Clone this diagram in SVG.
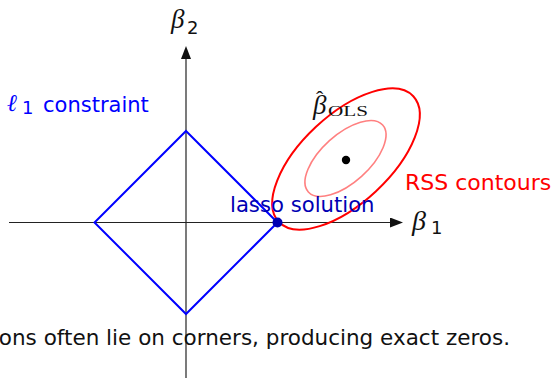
<svg xmlns="http://www.w3.org/2000/svg" width="557" height="378" viewBox="0 0 557 378">
<style>
.sans{font-family:"DejaVu Sans","Liberation Sans",sans-serif;}
.math{font-family:"Liberation Serif","DejaVu Serif",serif;font-style:italic;}
.rm{font-family:"Liberation Serif","DejaVu Serif",serif;}
.axis{stroke:#222;stroke-width:1.2;fill:none;}
</style>
<defs>
<marker id="arr" viewBox="0 0 13 10" refX="0" refY="5" markerWidth="13" markerHeight="10" markerUnits="userSpaceOnUse" orient="auto">
<path d="M0,0 L13,5 L0,10 Z" fill="#111"/>
</marker>
</defs>
<rect width="557" height="378" fill="#fff"/>
<g id="connectors">
<line class="axis" x1="9" y1="222.5" x2="390" y2="222.5" marker-end="url(#arr)"/>
<line class="axis" x1="186" y1="378" x2="186" y2="59" marker-end="url(#arr)"/>
</g>
<g id="constraint">
<polygon points="186,131 277.5,222.5 186,314 94.5,222.5" fill="none" stroke="#0000ff" stroke-width="2"/>
</g>
<g id="contours">
<ellipse cx="346" cy="159" rx="92" ry="44" transform="rotate(-43 346 159)" fill="none" stroke="#ff0000" stroke-width="2"/>
<ellipse cx="345.5" cy="158.5" rx="50" ry="24" transform="rotate(-42 345.5 158.5)" fill="none" stroke="#ff8080" stroke-width="1.6"/>
</g>
<g id="ols">
<circle cx="346" cy="160" r="4.2" fill="#000"/>
<text class="math" font-size="27" fill="#111"><tspan x="313" y="114">β</tspan><tspan x="316" y="106" font-style="normal" font-size="22">ˆ</tspan></text>
<text x="328" y="116" class="rm" font-size="15" fill="#111" textLength="40" lengthAdjust="spacingAndGlyphs">OLS</text>
</g>
<g id="lasso">
<circle cx="277.5" cy="222.5" r="5" fill="#0000b3"/>
<text x="230" y="211.5" class="sans" font-size="21.2" fill="#0000b3">lasso solution</text>
</g>
<g id="labels">
<text x="171" y="28" class="math" font-size="27" fill="#111">β</text>
<text x="187" y="33.5" class="sans" font-size="18" fill="#111">2</text>
<text x="412" y="230" class="math" font-size="28" fill="#111">β</text>
<text x="431" y="234" class="sans" font-size="18" fill="#111">1</text>
<text x="7" y="111" font-family="DejaVu Serif, serif" font-style="italic" font-size="24" fill="#0000ff">ℓ</text>
<text x="22" y="114" class="sans" font-size="18" fill="#0000ff">1</text>
<text x="43" y="112" class="sans" font-size="21" fill="#0000ff">constraint</text>
<text x="405" y="190" class="sans" font-size="22" fill="#ff0000">RSS contours</text>
<text x="510" y="345" class="sans" font-size="21.5" fill="#111" text-anchor="end">ons often lie on corners, producing exact zeros.</text>
</g>
</svg>
